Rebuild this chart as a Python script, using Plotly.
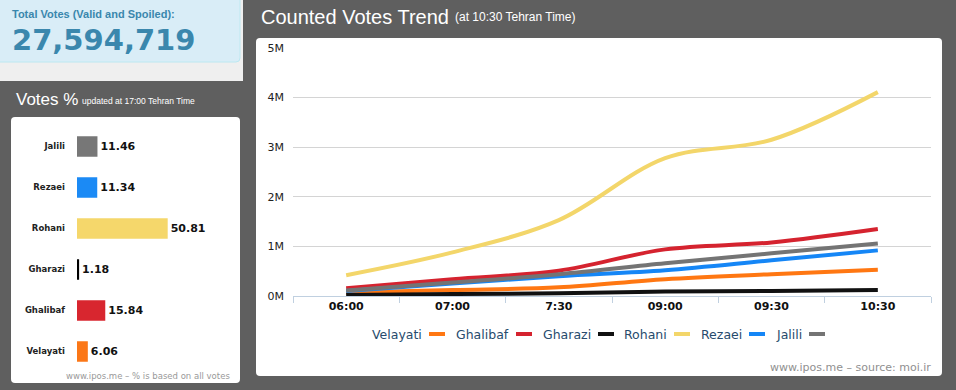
import plotly.graph_objects as go

W, H = 956, 390

# ---------------- data ----------------
total_votes_label = "Total Votes (Valid and Spoiled):"
total_votes = "27,594,719"

bar_candidates = ["Jalili", "Rezaei", "Rohani", "Gharazi", "Ghalibaf", "Velayati"]
bar_percent = [11.46, 11.34, 50.81, 1.18, 15.84, 6.06]
bar_colors = ["#777777", "#1b8af5", "#f5d76b", "#000000", "#d8262f", "#fb7717"]

times = ["06:00", "07:00", "7:30", "09:00", "09:30", "10:30"]
series_names = ["Velayati", "Ghalibaf", "Gharazi", "Rohani", "Rezaei", "Jalili"]
series_colors = ["#ff7712", "#d5232f", "#111111", "#f3d66a", "#1586f6", "#747474"]
velayati = [70000, 120000, 175000, 340000, 440000, 530000]
ghalibaf = [155000, 340000, 510000, 940000, 1080000, 1350000]
gharazi = [20000, 40000, 55000, 90000, 100000, 120000]
rohani = [420000, 880000, 1530000, 2780000, 3150000, 4110000]
rezaei = [100000, 250000, 400000, 520000, 720000, 920000]
jalili = [110000, 270000, 440000, 660000, 860000, 1060000]
series_values = [velayati, ghalibaf, gharazi, rohani, rezaei, jalili]

y_tickvals = [0, 1000000, 2000000, 3000000, 4000000, 5000000]
y_ticktext = ["0M", "1M", "2M", "3M", "4M", "5M"]


def px(x):
    return x / W


def py(y):
    return 1 - y / H


def rrect(x0, y0, x1, y1, r, fill, line=None):
    rx, ry = r / W, r / H
    X0, X1 = px(x0), px(x1)
    Y0, Y1 = py(y0), py(y1)  # Y0 top, Y1 bottom (paper)
    path = (f"M {X0+rx},{Y0} L {X1-rx},{Y0} Q {X1},{Y0} {X1},{Y0-ry} "
            f"L {X1},{Y1+ry} Q {X1},{Y1} {X1-rx},{Y1} L {X0+rx},{Y1} "
            f"Q {X0},{Y1} {X0},{Y1+ry} L {X0},{Y0-ry} Q {X0},{Y0} {X0+rx},{Y0} Z")
    return dict(type="path", xref="paper", yref="paper", path=path,
                fillcolor=fill, line=dict(color=line or fill, width=1 if line else 0),
                layer="below")


def note(text, x, y, xanchor, size, color, family="Liberation Sans", weight="normal"):
    return dict(text=text, x=px(x), y=py(y), xref="paper", yref="paper",
                xanchor=xanchor, yanchor="middle", showarrow=False,
                font=dict(family=family, size=size, color=color, weight=weight))


fig = go.Figure()

# line chart
for name, col, vals in zip(series_names, series_colors, series_values):
    fig.add_trace(go.Scatter(
        x=times, y=vals, name=name, mode="lines",
        line=dict(color=col, width=4, shape="spline", smoothing=1.0),
        xaxis="x", yaxis="y", showlegend=False, hoverinfo="skip"))

# bar chart
fig.add_trace(go.Bar(
    x=bar_percent, y=bar_candidates, orientation="h",
    marker=dict(color=bar_colors, line=dict(width=0)),
    width=0.5, text=[f"{v:.2f}" for v in bar_percent], textposition="outside",
    textfont=dict(family="DejaVu Sans", size=11, color="#111111", weight="bold"),
    cliponaxis=False, xaxis="x2", yaxis="y2", showlegend=False, hoverinfo="skip"))

shapes = [
    # top-left info area
    dict(type="rect", xref="paper", yref="paper", x0=px(0), x1=px(243), y0=py(81), y1=py(0),
         fillcolor="#efefef", line=dict(width=0), layer="below"),
    rrect(-4, -4, 240, 62, 4, "#d9edf7", "#bce8f1"),
    # white panels
    rrect(11, 117, 240, 383, 4, "#ffffff"),
    rrect(256, 38, 942, 376, 4, "#ffffff"),
]

annotations = [
    note(total_votes_label, 10, 14, "left", 11, "#3a87ad", weight="bold"),
    note(total_votes, 10, 40, "left", 29, "#3a87ad", family="DejaVu Sans", weight="bold"),
    note("Votes %", 14, 99, "left", 17, "#ffffff"),
    note("updated at 17:00 Tehran Time", 80, 101, "left", 8.5, "#ffffff"),
    note("Counted Votes Trend", 259, 17, "left", 20, "#ffffff"),
    note("(at 10:30 Tehran Time)", 453, 17, "left", 12, "#ffffff"),
    note("www.ipos.me \u2013 % is based on all votes", 232, 376, "right", 8.5, "#999999",
         family="DejaVu Sans"),
    note("www.ipos.me \u2013 source: moi.ir", 933, 367, "right", 11, "#909090",
         family="DejaVu Sans"),
]

# custom legend (name followed by swatch)
legend_swatch_x = [429, 516, 598, 674, 749, 809]
for name, col, sx in zip(series_names, series_colors, legend_swatch_x):
    annotations.append(note(name, sx - 5, 334, "right", 12.5, "#274b6d", family="DejaVu Sans"))
    shapes.append(dict(type="line", xref="paper", yref="paper", x0=px(sx), x1=px(sx + 16),
                       y0=py(334), y1=py(334), line=dict(color=col, width=4)))

fig.update_layout(
    width=W, height=H,
    margin=dict(l=0, r=0, t=0, b=0, pad=0, autoexpand=False),
    paper_bgcolor="#5f5f5f",
    plot_bgcolor="rgba(0,0,0,0)",
    shapes=shapes,
    annotations=annotations,
    xaxis=dict(domain=[px(293), px(931)], anchor="y", type="category",
               range=[-0.5, 5.5], tickson="boundaries", ticks="outside", ticklen=6,
               tickcolor="#c0d0e0", showline=True, linecolor="#c0d0e0", linewidth=1,
               showgrid=False, zeroline=False, automargin=False,
               tickfont=dict(family="DejaVu Sans", size=11, color="#111111", weight="bold")),
    yaxis=dict(domain=[py(296), py(48)], anchor="x", range=[0, 5000000],
               tickvals=y_tickvals, ticktext=y_ticktext, showgrid=True, gridcolor="#d4d4d4",
               gridwidth=1, zeroline=False, showline=False, ticks="", ticklabelstandoff=8,
               automargin=False,
               tickfont=dict(family="DejaVu Sans", size=11, color="#222222")),
    xaxis2=dict(domain=[px(77), px(232)], anchor="y2", range=[0, 155 / 1.785],
                visible=False),
    yaxis2=dict(domain=[py(372), py(126)], anchor="x2", autorange="reversed",
                type="category", showgrid=False, zeroline=False, showline=False, ticks="",
                ticklabelstandoff=11, automargin=False,
                tickfont=dict(family="DejaVu Sans", size=8.5, color="#222222", weight="bold")),
    hovermode=False,
)

fig.write_html("out.html", config={"displayModeBar": False},
               post_script="document.body.style.margin='0';"
                           "document.body.style.background='#5f5f5f';")
